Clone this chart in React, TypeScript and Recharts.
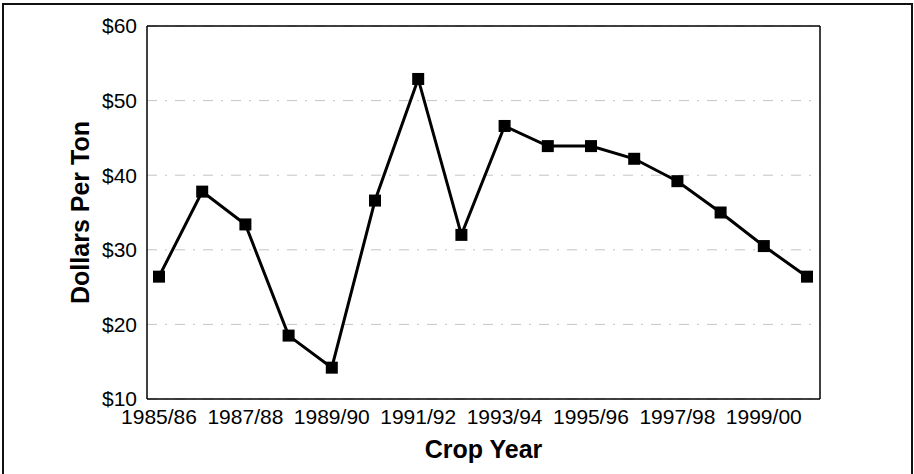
import React from "react";
import { LineChart, Line, XAxis, YAxis, CartesianGrid } from "recharts";

const cropYears = [
  "1985/86", "1986/87", "1987/88", "1988/89", "1989/90", "1990/91", "1991/92", "1992/93",
  "1993/94", "1994/95", "1995/96", "1996/97", "1997/98", "1998/99", "1999/00", "2000/01",
];

const dollarsPerTon = [
  26.4, 37.8, 33.4, 18.5, 14.2, 36.6, 52.9, 32.0,
  46.6, 43.9, 43.9, 42.2, 39.2, 35.0, 30.5, 26.4,
];

const yTicks = [10, 20, 30, 40, 50, 60];

const data = cropYears.map((year, i) => ({ year, price: dollarsPerTon[i] }));

const font = "'Liberation Sans', Arial, sans-serif";

// filled square marker
function SquareDot(props: any) {
  const { cx, cy } = props;
  if (cx == null || cy == null) return null;
  return <rect x={cx - 6} y={cy - 6} width={12} height={12} fill="#000" />;
}

export default function App() {
  return (
    <div
      style={{
        position: "absolute",
        left: 0,
        top: 0,
        width: 914,
        height: 474,
        overflow: "hidden",
        background: "#fff",
        fontFamily: font,
      }}
    >
      <div
        style={{
          position: "absolute",
          left: 2,
          top: 3,
          width: 911,
          height: 500,
          border: "2px solid #111",
          boxSizing: "border-box",
        }}
      />
      <div style={{ position: "absolute", left: 0, top: 0 }}>
        <LineChart
          width={914}
          height={474}
          data={data}
          margin={{ top: 25, right: 93, bottom: 15, left: 13 }}
        >
          <CartesianGrid vertical={false} stroke="#c4c4c4" strokeDasharray="10 8 2 8" />
          <XAxis
            dataKey="year"
            interval={1}
            height={60}
            padding={{ left: 12, right: 13 }}
            tickLine={false}
            tickSize={0}
            tickMargin={10}
            axisLine={{ stroke: "#000", strokeWidth: 1.5 }}
            tick={{ fill: "#000", fontSize: 21, fontFamily: font }}
            label={{
              value: "Crop Year",
              position: "insideBottom",
              offset: 1,
              fill: "#000",
              fontSize: 25,
              fontWeight: "bold",
              fontFamily: font,
            }}
          />
          <XAxis
            xAxisId="top"
            orientation="top"
            dataKey="year"
            height={1}
            tick={false}
            tickLine={false}
            axisLine={{ stroke: "#000", strokeWidth: 1.5 }}
          />
          <YAxis
            domain={[10, 60]}
            ticks={yTicks}
            width={134}
            tickLine={false}
            tickSize={0}
            tickMargin={10}
            axisLine={{ stroke: "#000", strokeWidth: 1.5 }}
            tickFormatter={(v: number) => `$${v}`}
            tick={{ fill: "#000", fontSize: 21, fontFamily: font }}
            label={{
              value: "Dollars Per Ton",
              angle: -90,
              position: "center",
              fill: "#000",
              fontSize: 25,
              fontWeight: "bold",
              fontFamily: font,
            }}
          />
          <YAxis
            yAxisId="right"
            orientation="right"
            domain={[10, 60]}
            width={1}
            tick={false}
            tickLine={false}
            axisLine={{ stroke: "#000", strokeWidth: 1.5 }}
          />
          {/* invisible series so the top and right frame axes are drawn */}
          <Line
            xAxisId="top"
            yAxisId="right"
            dataKey="price"
            stroke="none"
            dot={false}
            activeDot={false}
            legendType="none"
            isAnimationActive={false}
          />
          <Line
            type="linear"
            dataKey="price"
            stroke="#000"
            strokeWidth={3}
            dot={<SquareDot />}
            activeDot={false}
            isAnimationActive={false}
          />
        </LineChart>
      </div>
    </div>
  );
}
